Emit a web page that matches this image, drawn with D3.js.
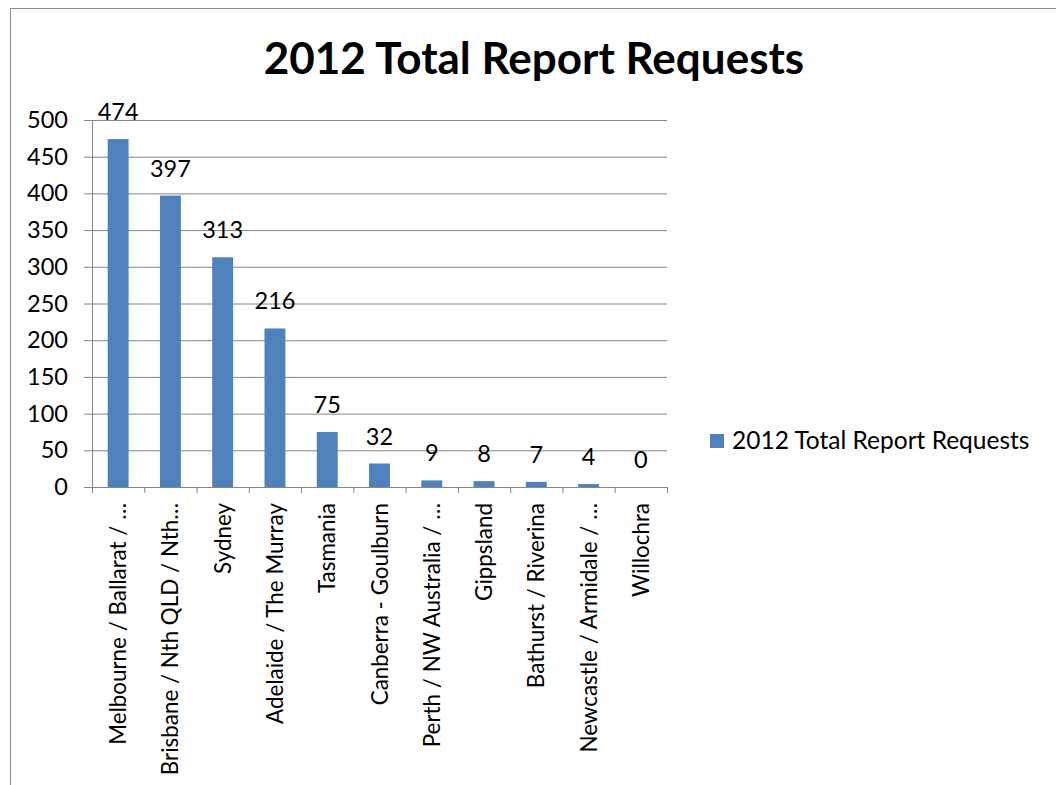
<!DOCTYPE html>
<html>
<head>
<meta charset="utf-8">
<script src="https://cdn.jsdelivr.net/npm/d3@7"></script>
<style>
  body { margin: 0; background: #fff; }
  text { font-family: Lato, "Liberation Sans", sans-serif; fill: #000; }
</style>
</head>
<body>
<div id="chart"></div>
<script>
// Chart data
var categories = [ 'Melbourne / Ballarat / …', 'Brisbane / Nth QLD / Nth…', 'Sydney',
                   'Adelaide / The Murray', 'Tasmania', 'Canberra - Goulburn',
                   'Perth / NW Australia / …', 'Gippsland', 'Bathurst / Riverina',
                   'Newcastle / Armidale / …', 'Willochra' ];
var values     = [ 474, 397, 313, 216, 75, 32, 9, 8, 7, 4, 0 ];
var yTicks     = [ 0, 50, 100, 150, 200, 250, 300, 350, 400, 450, 500 ];
var seriesName = '2012 Total Report Requests';
var titleText  = '2012 Total Report Requests';

var overallWidth  = 1056;
var overallHeight = 785;

// plot area
var plot = { left: 92, right: 667, top: 120, bottom: 487 };

var barColour  = '#4f81bd';
var gridColour = '#868686';

var svg = d3.select ('#chart').append ('svg')
            .attr ('width', overallWidth)
            .attr ('height', overallHeight);

// outer border of chart frame (runs off the right / bottom of the shot)
svg.append ('rect')
   .attr ('x', 10.5).attr ('y', 8.5)
   .attr ('width', overallWidth + 20).attr ('height', overallHeight + 20)
   .attr ('fill', '#fff')
   .attr ('stroke', '#8a8a8a');

var x = d3.scaleBand ()
          .domain (categories)
          .range ([plot.left, plot.right])
          .paddingInner (0.6)
          .paddingOuter (0.3);

var y = d3.scaleLinear ()
          .domain ([0, 500])
          .range ([plot.bottom, plot.top]);

// gridlines
svg.append ('g')
   .attr ('transform', 'translate(' + plot.left + ',0)')
   .call (d3.axisLeft (y).tickValues (yTicks).tickSize (-(plot.right - plot.left)).tickFormat (''))
   .call (function (g) { g.select ('.domain').remove (); })
   .selectAll ('line').attr ('stroke', gridColour);

// y axis
var yAxis = svg.append ('g')
   .attr ('transform', 'translate(' + plot.left + ',0)')
   .call (d3.axisLeft (y).tickValues (yTicks).tickSizeInner (8).tickSizeOuter (0).tickPadding (16));
yAxis.select ('.domain').attr ('stroke', gridColour);
yAxis.selectAll ('line').attr ('stroke', gridColour);
yAxis.selectAll ('text').style ('font-size', '23.5px').attr ('fill', '#000');

// bars
svg.selectAll ('.bar')
   .data (values)
   .enter ()
   .append ('rect')
   .attr ('class', 'bar')
   .attr ('x', function (d, i) { return x (categories[i]); })
   .attr ('y', function (d) { return y (d); })
   .attr ('width', x.bandwidth ())
   .attr ('height', function (d) { return plot.bottom - y (d); })
   .attr ('fill', barColour);

// data labels
svg.selectAll ('.valLabel')
   .data (values)
   .enter ()
   .append ('text')
   .attr ('class', 'valLabel')
   .attr ('x', function (d, i) { return x (categories[i]) + x.bandwidth () / 2; })
   .attr ('y', function (d) { return y (d) - 19; })
   .attr ('text-anchor', 'middle')
   .style ('font-size', '23.5px')
   .text (function (d) { return d; });

// x axis: tick marks sit on the category boundaries
var xEdge = d3.scaleLinear ().domain ([0, categories.length]).range ([plot.left, plot.right]);
var xAxis = svg.append ('g')
   .attr ('transform', 'translate(0,' + plot.bottom + ')')
   .call (d3.axisBottom (xEdge).ticks (categories.length).tickSizeInner (6).tickSizeOuter (0).tickFormat (''));
xAxis.select ('.domain').attr ('stroke', gridColour);
xAxis.selectAll ('line').attr ('stroke', gridColour);

// category labels
var xLabels = svg.append ('g')
   .attr ('transform', 'translate(0,' + plot.bottom + ')')
   .call (d3.axisBottom (x).tickSize (0));
xLabels.select ('.domain').remove ();
xLabels.selectAll ('text')
       .style ('font-size', '22.4px')
       .attr ('fill', '#000')
       .attr ('transform', 'rotate(-90)')
       .attr ('text-anchor', 'end')
       .attr ('x', -16)
       .attr ('y', 0)
       .attr ('dy', '0.36em');

// title
svg.append ('text')
   .attr ('x', 534)
   .attr ('y', 74)
   .attr ('text-anchor', 'middle')
   .style ('font-size', '44px')
   .style ('font-weight', 'bold')
   .text (titleText);

// legend
svg.append ('rect')
   .attr ('x', 710).attr ('y', 434)
   .attr ('width', 14).attr ('height', 14)
   .attr ('fill', barColour);
svg.append ('text')
   .attr ('x', 732).attr ('y', 449)
   .style ('font-size', '24.5px')
   .text (seriesName);
</script>
</body>
</html>
